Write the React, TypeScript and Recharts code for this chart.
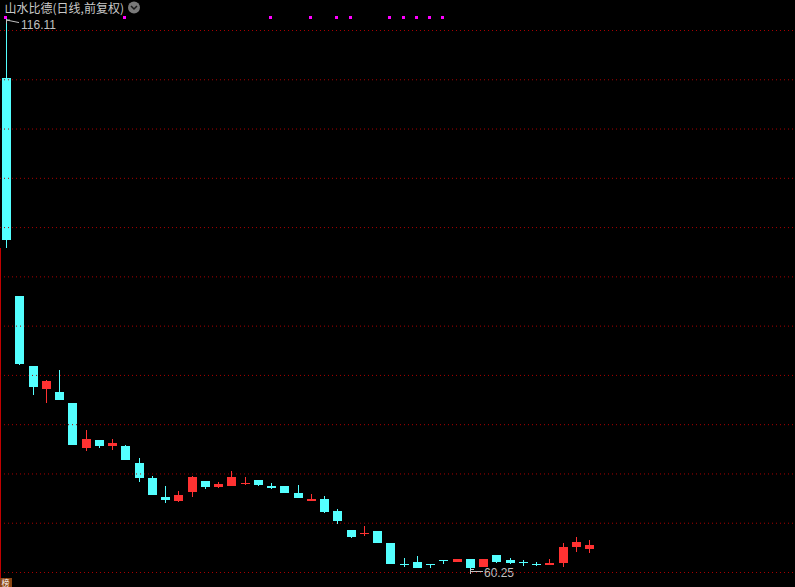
import { ComposedChart, Bar, Line, XAxis, YAxis, ReferenceLine } from "recharts";

// daily candles, front-adjusted prices
const opens = [
  110.13, 88.01, 80.9, 78.57, 78.27, 77.15, 72.58, 73.39, 72.79, 72.79,
  71.06, 69.54, 67.61, 67.2, 68.12, 69.23, 68.62, 68.73, 69.0, 69.34,
  68.73, 68.73, 68.02, 67.2, 67.41, 66.19, 64.26, 63.86, 64.16, 62.94,
  60.83, 61.01, 60.84, 61.24, 61.01, 61.32, 60.51, 61.72, 61.22, 61.02,
  60.82, 60.71, 60.91, 62.54, 62.33,
];
const closes = [
  93.69, 81.11, 78.77, 79.38, 77.45, 72.89, 73.5, 72.79, 73.09, 71.37,
  69.54, 67.81, 67.31, 67.81, 69.64, 68.62, 68.93, 69.64, 69.03, 68.83,
  68.52, 68.02, 67.51, 67.41, 66.09, 65.18, 63.55, 63.96, 62.94, 60.81,
  60.8, 60.41, 60.81, 61.21, 61.32, 60.41, 61.32, 61.01, 60.91, 61.0,
  60.8, 60.91, 62.54, 63.04, 62.74,
];
const highs = [
  116.11, 88.01, 80.92, 79.48, 80.5, 77.17, 74.41, 73.4, 73.5, 72.89,
  71.57, 69.74, 68.73, 68.22, 69.74, 69.25, 69.13, 70.25, 69.64, 69.36,
  69.03, 68.75, 68.83, 67.91, 67.71, 66.39, 64.28, 64.67, 64.18, 62.96,
  61.42, 61.62, 60.86, 61.26, 61.34, 61.34, 61.34, 61.74, 61.42, 61.22,
  61.01, 61.32, 62.94, 63.55, 63.25,
];
const lows = [
  92.88, 81.01, 77.96, 77.15, 77.42, 72.87, 72.28, 72.58, 72.38, 71.35,
  69.13, 67.79, 67.0, 67.1, 67.61, 68.42, 68.52, 68.71, 68.83, 68.73,
  68.42, 68.0, 67.49, 67.18, 65.99, 64.87, 63.45, 63.65, 62.92, 60.79,
  60.51, 60.39, 60.41, 60.81, 60.99, 60.25, 60.49, 60.91, 60.81, 60.61,
  60.61, 60.69, 60.51, 62.03, 61.93,
];
// days with a signal marker on the top row
const signalDays = [0, 9, 20, 23, 25, 26, 29, 30, 31, 32, 33];
const gridLevels = [60, 65, 70, 75, 80, 85, 90, 95, 100, 105, 110, 115];

const SLOTS = 60;
const SIGNAL_LEVEL = 116.32;
const Y_DOMAIN: [number, number] = [58.529, 118.095];
const UP = "#ff3232";
const DOWN = "#54ffff";
const LABEL = "#c0c0c0";

const hiIdx = highs.indexOf(Math.max(...highs));
const loIdx = lows.indexOf(Math.min(...lows));

const data = Array.from({ length: SLOTS }, (_, i) =>
  i < opens.length
    ? {
        idx: i,
        open: opens[i],
        close: closes[i],
        high: highs[i],
        low: lows[i],
        sig: signalDays.includes(i) ? SIGNAL_LEVEL : null,
      }
    : { idx: i, open: null, close: null, high: null, low: null, sig: null }
);

function Candle(props: any) {
  const { x, y, width, height, payload } = props;
  if (!payload || payload.high == null) return null;
  const { open, close, high, low } = payload;
  const top = Math.min(y, y + height);
  const h = Math.abs(height);
  const py = (v: number) => top + ((high - v) / (high - low)) * h;
  const color = close >= open ? UP : DOWN;
  const bx = Math.round(x);
  const w = Math.round(width);
  const wx = bx + Math.floor(w / 2);
  const bodyTop = Math.floor(py(Math.max(open, close)));
  const bodyBot = Math.floor(py(Math.min(open, close)));
  const wickTop = Math.floor(top);
  const wickBot = Math.floor(top + h);
  return (
    <g>
      <rect x={wx} y={wickTop} width={1} height={Math.max(1, wickBot - wickTop)} fill={color} />
      <rect x={bx} y={bodyTop} width={w} height={Math.max(1, bodyBot - bodyTop)} fill={color} />
      {payload.idx === hiIdx && (
        <g>
          <path
            d={`M${wx + 0.5} ${top + 4} V${top + 0.5} H${wx + 4} M${wx + 0.5} ${top + 0.5} L${wx + 13} ${top + 3}`}
            stroke={LABEL}
            fill="none"
          />
          <text x={wx + 15} y={top + 9} fill={LABEL} fontSize={12} fontFamily="Liberation Sans, Arial, sans-serif">
            {high.toFixed(2)}
          </text>
        </g>
      )}
      {payload.idx === loIdx && (
        <g>
          <path
            d={`M${wx + 0.5} ${wickBot + 4} V${wickBot - 0.5} H${wx + 4} M${wx + 0.5} ${wickBot + 1.5} H${wx + 13}`}
            stroke={LABEL}
            fill="none"
          />
          <text x={wx + 14} y={wickBot + 7} fill={LABEL} fontSize={12} fontFamily="Liberation Sans, Arial, sans-serif">
            {low.toFixed(2)}
          </text>
        </g>
      )}
    </g>
  );
}

function SignalDot(props: any) {
  const { cx, cy, index, value } = props;
  if (value == null || cy == null || isNaN(cy)) return <g key={`s${index}`} />;
  return (
    <rect key={`s${index}`} x={Math.round(cx - 4.625) + 2} y={Math.round(cy) - 1} width={3} height={3} fill="#ff00ff" />
  );
}

export default function App() {
  return (
    <div
      style={{
        position: "fixed",
        top: 0,
        left: 0,
        width: 795,
        height: 587,
        background: "#000",
        overflow: "hidden",
      }}
    >
      <ComposedChart width={795} height={587} data={data} margin={{ top: 0, right: 0, bottom: 0, left: 0 }}>
        <XAxis dataKey="idx" type="category" hide />
        <YAxis type="number" domain={Y_DOMAIN} allowDataOverflow hide />
        {gridLevels.map((v) => (
          <ReferenceLine key={v} y={v} stroke="#a80000" strokeDasharray="1 3" />
        ))}
        <Bar
          dataKey={(d: any) => (d.high == null ? null : [d.low, d.high])}
          barSize={9}
          shape={Candle}
          isAnimationActive={false}
        />
        <Line
          dataKey="sig"
          stroke="none"
          dot={SignalDot}
          activeDot={false}
          isAnimationActive={false}
        />
      </ComposedChart>
      <svg
        width={795}
        height={587}
        style={{ position: "absolute", top: 0, left: 0, pointerEvents: "none" }}
      >
        <text x={4.5} y={13} fill="#c8c8c8" fontSize={12} fontFamily="Noto Sans CJK SC, sans-serif">
          山水比德(日线,前复权)
        </text>
        <circle cx={134} cy={7.5} r={6} fill="#7a7a7a" />
        <polyline points="131,6 134,9 137,6" fill="none" stroke="#1a1a1a" strokeWidth={1.5} />
        <rect x={0} y={248} width={1} height={339} fill="#c00000" />
        <rect x={0} y={578} width={12} height={9} fill="#8b4513" />
        <text x={1.5} y={586} fill="#fff" fontSize={8} fontFamily="Noto Sans CJK SC, sans-serif">
          榜
        </text>
      </svg>
    </div>
  );
}
